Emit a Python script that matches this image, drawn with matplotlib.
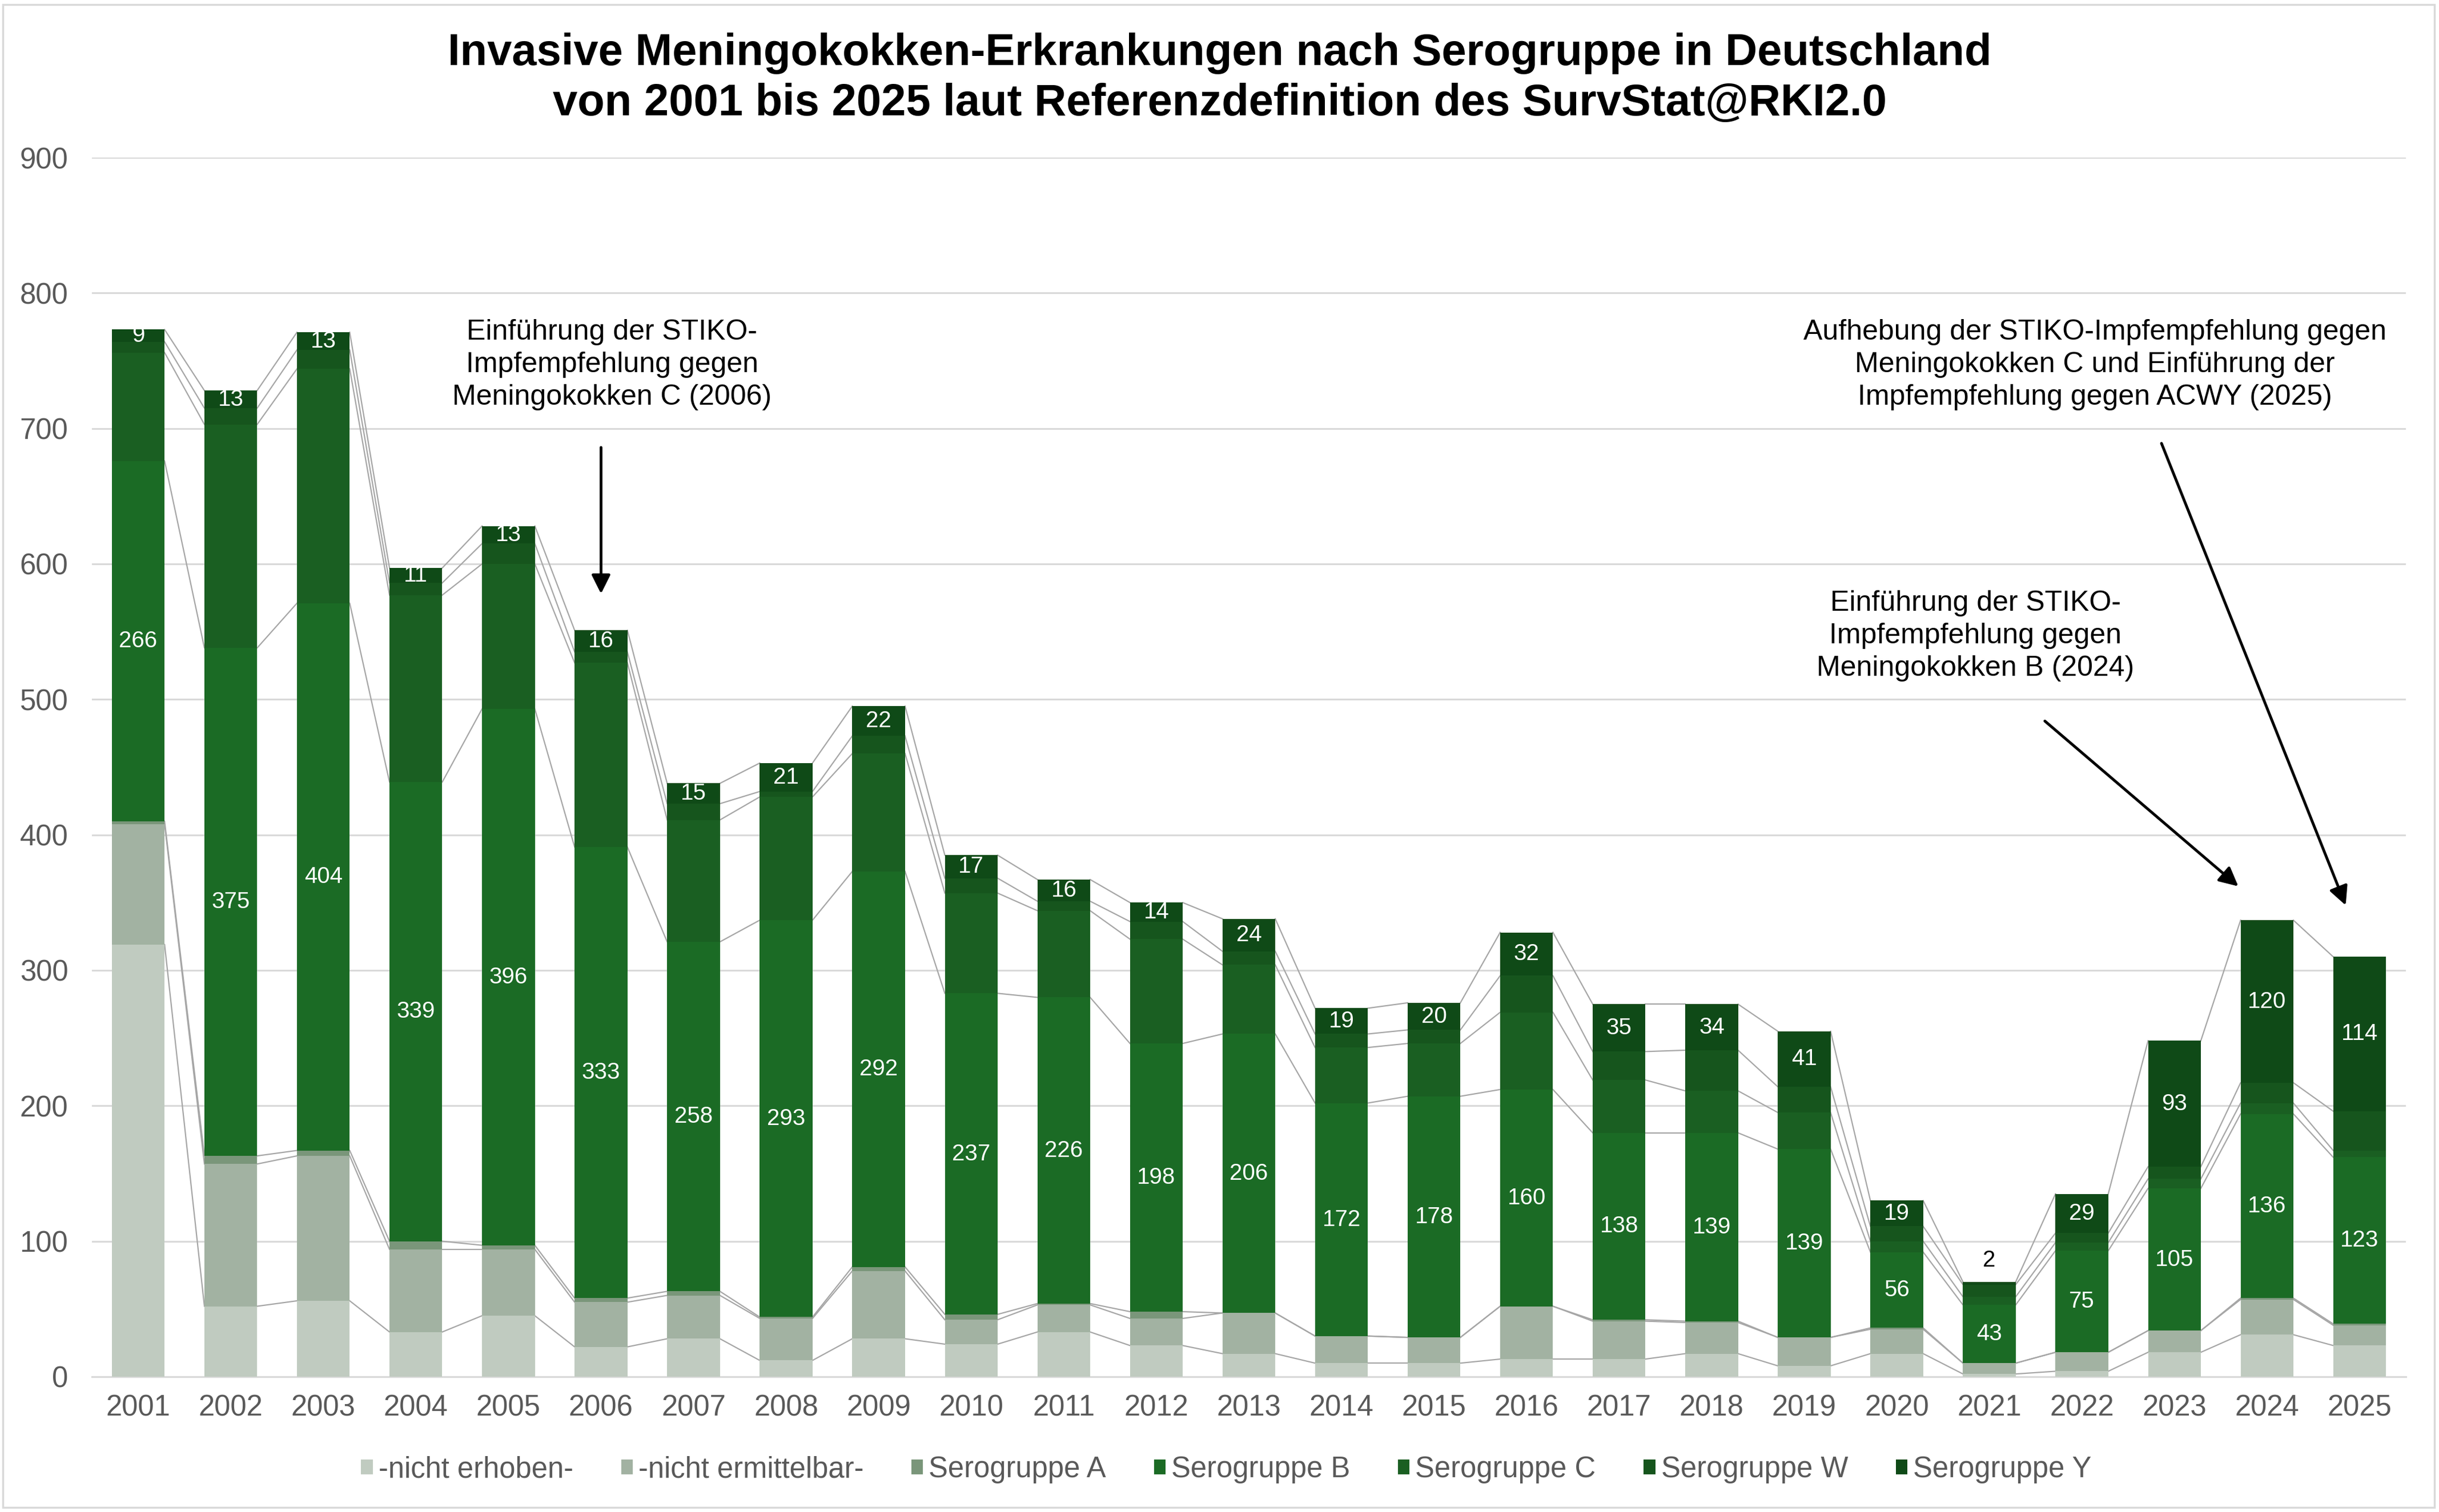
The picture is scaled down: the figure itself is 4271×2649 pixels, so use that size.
import matplotlib
matplotlib.use("Agg")
import matplotlib.pyplot as plt
import numpy as np
from matplotlib.patches import Rectangle

plt.rcParams['font.family'] = ['Liberation Sans', 'DejaVu Sans']

# Daten
jahre = [str(j) for j in range(2001, 2026)]
nicht_erhoben = [319, 52, 56, 33, 45, 22, 28, 12, 28, 24, 33, 23, 17, 10, 10, 13, 13, 17, 8, 17, 2, 4, 18, 31, 23]
nicht_ermittelbar = [89, 105, 107, 61, 49, 33, 32, 31, 50, 18, 20, 20, 30, 20, 19, 39, 28, 23, 21, 18, 8, 14, 16, 26, 15]
sero_a = [2, 6, 4, 6, 3, 3, 3, 1, 3, 4, 1, 5, 0, 0, 0, 0, 1, 1, 0, 1, 0, 0, 0, 1, 1]
sero_b = [266, 375, 404, 339, 396, 333, 258, 293, 292, 237, 226, 198, 206, 172, 178, 160, 138, 139, 139, 56, 43, 75, 105, 136, 123]
sero_c = [80, 165, 173, 138, 107, 136, 90, 91, 87, 74, 64, 77, 51, 41, 39, 57, 39, 31, 27, 8, 6, 6, 7, 8, 5]
sero_w = [8, 12, 14, 9, 15, 8, 12, 4, 13, 11, 7, 13, 10, 10, 10, 27, 21, 30, 19, 11, 9, 7, 9, 15, 29]
sero_y = [9, 13, 13, 11, 13, 16, 15, 21, 22, 17, 16, 14, 24, 19, 20, 32, 35, 34, 41, 19, 2, 29, 93, 120, 114]

namen = ["-nicht erhoben-", "-nicht ermittelbar-", "Serogruppe A", "Serogruppe B",
         "Serogruppe C", "Serogruppe W", "Serogruppe Y"]
farben = ["#c0cbc0", "#a2b2a2", "#7a967a", "#1b6b25", "#1a5f22", "#16551d", "#0f4a17"]
reihen = [nicht_erhoben, nicht_ermittelbar, sero_a, sero_b, sero_c, sero_w, sero_y]

fig = plt.figure(figsize=(42.71, 26.49), dpi=100)
ax = fig.add_axes([0.0377, 0.0895, 0.9487, 0.8063])

x = np.arange(len(jahre))
breite = 0.57
unten = np.zeros(len(jahre))
stufen = []
balken = []
for werte, farbe, name in zip(reihen, farben, namen):
    werte = np.array(werte, dtype=float)
    b = ax.bar(x, werte, breite, bottom=unten, color=farbe, label=name, zorder=3)
    balken.append(b)
    unten = unten + werte
    stufen.append(unten.copy())

# Verbindungslinien (Reihenlinien wie in Excel)
for stufe in stufen:
    for i in range(len(jahre) - 1):
        ax.plot([x[i] + breite / 2, x[i + 1] - breite / 2], [stufe[i], stufe[i + 1]],
                color="#a6a6a6", lw=1.6, zorder=2)

# Beschriftungen fuer Serogruppe B und Y
for idx in (3, 6):
    werte = reihen[idx]
    for i, v in enumerate(werte):
        basis = stufen[idx][i] - v
        if v < 5:
            ax.text(x[i], stufen[-1][i] + 16, str(v), ha="center", va="center",
                    fontsize=29, color="black", zorder=5)
        else:
            ax.text(x[i], basis + v / 2, str(v), ha="center", va="center",
                    fontsize=29, color="white", zorder=5)

ax.set_xlim(-0.5, len(jahre) - 0.5)
ax.set_ylim(0, 900)
ax.set_yticks(range(0, 901, 100))
ax.set_xticks(x)
ax.set_xticklabels(jahre)
ax.tick_params(axis="both", length=0, labelsize=36.5, labelcolor="#595959")
ax.tick_params(axis="y", pad=30)
ax.tick_params(axis="x", pad=22)
ax.grid(axis="y", color="#d9d9d9", lw=2.2, zorder=0)
ax.set_axisbelow(True)
for s in ["top", "right", "left"]:
    ax.spines[s].set_visible(False)
ax.spines["bottom"].set_color("#d9d9d9")
ax.spines["bottom"].set_linewidth(2.2)

# Titel
fig.text(0.5, 0.9480, "Invasive Meningokokken-Erkrankungen nach Serogruppe in Deutschland\n"
         "von 2001 bis 2025 laut Referenzdefinition des SurvStat@RKI2.0",
         ha="center", va="center", fontsize=56, fontweight="bold", linespacing=1.27)

# Anmerkungen
pfeil = dict(arrowstyle="-|>", color="black", lw=3.5, mutation_scale=50, shrinkA=0, shrinkB=0)
ax.text(5.12, 747, "Einführung der STIKO-\nImpfempfehlung gegen\nMeningokokken C (2006)",
        ha="center", va="center", fontsize=36, linespacing=1.3)
ax.annotate("", xy=(5.0, 578), xytext=(5.0, 686), arrowprops=pfeil)

ax.text(19.85, 547, "Einführung der STIKO-\nImpfempfehlung gegen\nMeningokokken B (2024)",
        ha="center", va="center", fontsize=36, linespacing=1.3)
ax.annotate("", xy=(22.69, 362), xytext=(20.6, 484), arrowprops=pfeil)

ax.text(21.14, 747, "Aufhebung der STIKO-Impfempfehlung gegen\nMeningokokken C und Einführung der\n"
        "Impfempfehlung gegen ACWY (2025)",
        ha="center", va="center", fontsize=36, linespacing=1.3)
ax.annotate("", xy=(23.85, 348), xytext=(21.86, 689), arrowprops=pfeil)

# Legende
leg = fig.legend(handles=balken, labels=namen, loc="center", bbox_to_anchor=(0.5028, 0.028),
                 ncol=7, frameon=False, fontsize=36.5, handlelength=0.4, handleheight=0.4,
                 handletextpad=0.2, columnspacing=1.65)
for t in leg.get_texts():
    t.set_color("#595959")

# Rahmen
fig.patches.append(Rectangle((0.0012, 0.003), 0.9970, 0.994, transform=fig.transFigure,
                             fill=False, edgecolor="#d9d9d9", lw=2.5))

fig.savefig("out.png", dpi=100)
